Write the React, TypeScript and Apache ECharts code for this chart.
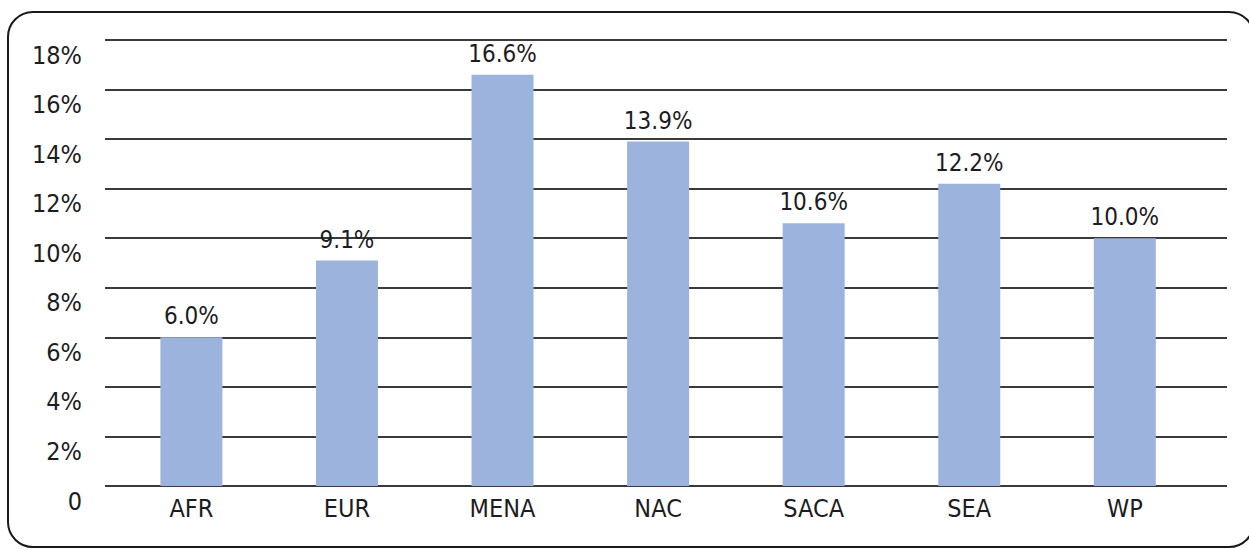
import React, { useEffect, useRef } from "react";
import * as echarts from "echarts";

const categories = ["AFR", "EUR", "MENA", "NAC", "SACA", "SEA", "WP"];
const values = [6.0, 9.1, 16.6, 13.9, 10.6, 12.2, 10.0];
const yTicks = { min: 0, max: 18, interval: 2 };

const FONT = "'DejaVu Sans Condensed', 'DejaVu Sans', sans-serif";
const TEXT = "#1c1c22";

export default function App() {
  const ref = useRef<HTMLDivElement>(null);
  useEffect(() => {
    if (!ref.current) return;
    const chart = echarts.init(ref.current, undefined, { renderer: "svg" });
    chart.setOption({
      animation: false,
      backgroundColor: "#ffffff",
      textStyle: { fontFamily: FONT },
      graphic: [
        {
          type: "rect",
          x: 8,
          y: 12,
          shape: { x: 0, y: 0, width: 1246, height: 535, r: 25 },
          style: { fill: "none", stroke: "#1a1a1a", lineWidth: 2 },
          silent: true,
        },
      ],
      grid: [
        { left: 105, right: 22, top: 40, bottom: 63, containLabel: false },
        { left: 113.6, right: 46.4, top: 40, bottom: 63, containLabel: false },
      ],
      xAxis: [
        { type: "category", gridIndex: 0, data: categories, show: false },
        {
          type: "category",
          gridIndex: 1,
          data: categories,
          axisLine: { show: false },
          axisTick: { show: false },
          axisLabel: {
            color: TEXT,
            fontSize: 25,
            fontFamily: FONT,
            margin: 9,
            lineHeight: 26,
            verticalAlign: "top",
          },
        },
      ],
      yAxis: [
        {
          type: "value",
          gridIndex: 0,
          min: yTicks.min,
          max: yTicks.max,
          interval: yTicks.interval,
          axisLine: { show: false },
          axisTick: { show: false },
          splitLine: { show: true, lineStyle: { color: "#3a3a3a", width: 2 } },
          axisLabel: {
            color: TEXT,
            fontSize: 25,
            fontFamily: FONT,
            margin: 23,
            verticalAlign: "top",
            lineHeight: 30,
            formatter: (v: number) => (v === 0 ? "0" : `${v}%`),
          },
        },
        {
          type: "value",
          gridIndex: 1,
          min: yTicks.min,
          max: yTicks.max,
          interval: yTicks.interval,
          show: false,
          splitLine: { show: false },
        },
      ],
      series: [
        {
          type: "bar",
          xAxisIndex: 1,
          yAxisIndex: 1,
          data: values,
          barWidth: 62,
          itemStyle: { color: "#9cb3de" },
          label: {
            show: true,
            position: "top",
            distance: 9,
            color: TEXT,
            fontSize: 24,
            fontFamily: FONT,
            formatter: (p: any) => `${p.value.toFixed(1)}%`,
          },
        },
      ],
    });
    return () => chart.dispose();
  }, []);
  return (
    <div
      ref={ref}
      style={{ position: "absolute", left: 0, top: 0, width: 1249, height: 549 }}
    />
  );
}
